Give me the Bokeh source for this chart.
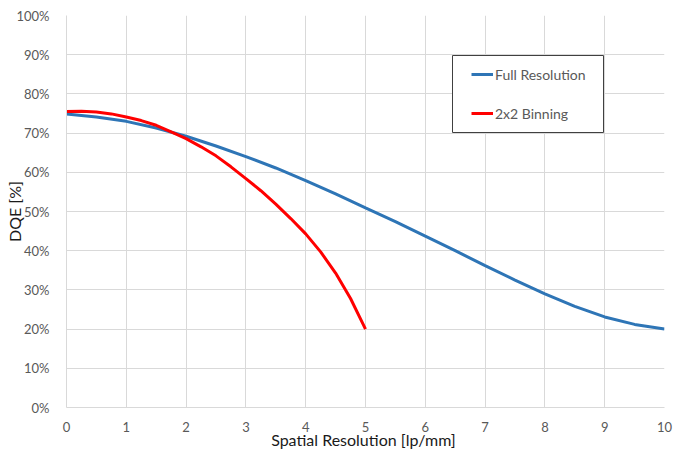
from bokeh.plotting import figure
from bokeh.models import Range1d, NumeralTickFormatter, FixedTicker, Legend, LegendItem, BoxAnnotation
from bokeh.embed import file_html
from bokeh.resources import INLINE

# Data (DQE in %)
full_x = [0, 0.5, 1, 1.5, 2, 2.5, 3, 3.5, 4, 4.5, 5, 5.5, 6, 6.5, 7, 7.5, 8, 8.5, 9, 9.5, 10]
full_y = [74.9, 74.1, 73.0, 71.3, 69.2, 66.7, 64.0, 61.1, 57.9, 54.5, 50.9, 47.4, 43.7, 40.0,
          36.2, 32.5, 29.0, 25.8, 23.1, 21.2, 20.0]
bin_x = [0, 0.25, 0.5, 0.75, 1, 1.25, 1.5, 1.75, 2, 2.25, 2.5, 2.75, 3, 3.25, 3.5, 3.75, 4,
         4.25, 4.5, 4.75, 5]
bin_y = [75.5, 75.6, 75.4, 74.9, 74.1, 73.2, 72.0, 70.3, 68.6, 66.5, 64.2, 61.4, 58.4, 55.3,
         51.9, 48.2, 44.3, 39.7, 34.3, 27.8, 20.0]
x_ticks = list(range(0, 11))
y_ticks = [i / 10 for i in range(0, 11)]
series_names = ["Full Resolution", "2x2 Binning"]
series_colors = ["#2E75B6", "#FF0000"]
x_title = "Spatial Resolution  [lp/mm]"
y_title = "DQE [%]"

FONT = "Lato"

p = figure(width=674, height=456, output_backend="svg", toolbar_location=None,
           x_range=Range1d(0, 10), y_range=Range1d(0, 1),
           min_border_left=66, min_border_right=10, min_border_top=15, min_border_bottom=49)
p.outline_line_color = None
p.background_fill_color = "white"
p.border_fill_color = "white"

r1 = p.line(full_x, [v / 100 for v in full_y], line_color=series_colors[0], line_width=3)
r2 = p.line(bin_x, [v / 100 for v in bin_y], line_color=series_colors[1], line_width=3)

for ax in (p.xaxis[0], p.yaxis[0]):
    ax.axis_line_color = "#d9d9d9"
    ax.axis_line_width = 1
    ax.major_tick_line_color = None
    ax.minor_tick_line_color = None
    ax.major_label_text_font = FONT
    ax.major_label_text_font_size = "13px"
    ax.major_label_text_color = "#595959"
    ax.axis_label_text_font = FONT
    ax.axis_label_text_font_size = "16px"
    ax.axis_label_text_font_style = "normal"
    ax.axis_label_text_color = "#1a1a1a"

p.xaxis.ticker = FixedTicker(ticks=x_ticks)
p.yaxis.ticker = FixedTicker(ticks=y_ticks)
p.yaxis.formatter = NumeralTickFormatter(format="0%")
p.xaxis.axis_label = x_title
p.yaxis.axis_label = y_title
p.xaxis.major_label_standoff = 8
p.yaxis.major_label_standoff = 11
p.xaxis.axis_label_standoff = -5
p.yaxis.axis_label_standoff = -11

p.xgrid.grid_line_color = "#d9d9d9"
p.ygrid.grid_line_color = "#d9d9d9"

box = BoxAnnotation(left=386, right=537, top=352, bottom=275,
                    left_units="screen", right_units="screen",
                    top_units="screen", bottom_units="screen",
                    fill_color="white", fill_alpha=1.0,
                    line_color="#404040", line_width=1, line_alpha=1.0)
p.add_layout(box)

legend = Legend(items=[LegendItem(label=series_names[0], renderers=[r1]),
                       LegendItem(label=series_names[1], renderers=[r2])],
                location=(405, 284), orientation="vertical",
                padding=0, spacing=19, margin=0,
                glyph_width=22, glyph_height=20, label_height=20, label_standoff=2,
                label_text_font=FONT, label_text_font_size="14px",
                label_text_color="#595959",
                border_line_color=None, background_fill_alpha=0.0)
p.add_layout(legend, "center")

open("out.html", "w").write(file_html(p, INLINE))
